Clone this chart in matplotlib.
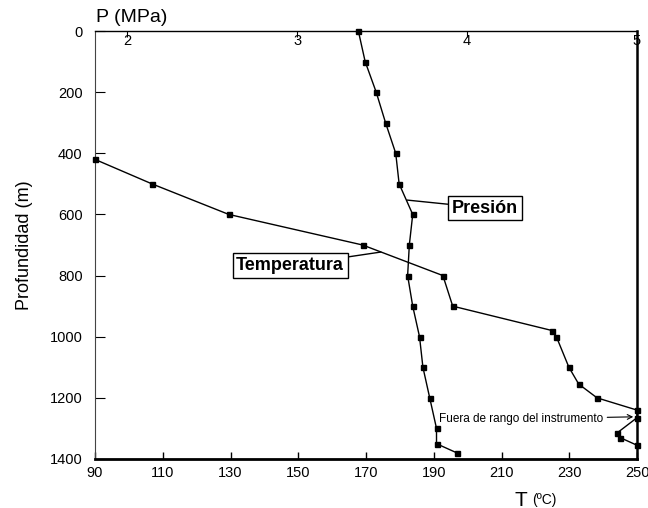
import numpy as np
import matplotlib
matplotlib.use('Agg')
import matplotlib.pyplot as plt

plt.rcParams['font.family'] = ['Liberation Sans', 'DejaVu Sans']

# temperature log (T in degC vs depth in m)
depth_T = [420, 500, 600, 700, 800, 900, 980, 1000, 1100, 1155, 1200, 1240, 1265, 1315, 1330, 1355]
temp_C = [90, 106.8, 129.5, 169, 192.7, 195.6, 225, 226.2, 229.9, 232.8, 238.2, 250, 250, 244.1, 245, 250]

# pressure log (P in MPa vs depth in m)
depth_P = [0, 100, 200, 300, 400, 500, 600, 700, 800, 900, 1000, 1100, 1200, 1300, 1350, 1380]
pres_MPa = [3.36, 3.40, 3.465, 3.52, 3.58, 3.60, 3.68, 3.66, 3.65, 3.68, 3.72, 3.74, 3.78, 3.82, 3.82, 3.94]

T_ticks = [90, 110, 130, 150, 170, 190, 210, 230, 250]
P_ticks = [2, 3, 4, 5]
depth_ticks = [0, 200, 400, 600, 800, 1000, 1200, 1400]

W, H = 648, 508
fig = plt.figure(figsize=(W / 100, H / 100), dpi=100)
ax = fig.add_axes([95 / W, (H - 459) / H, 542 / W, 428 / H])

ax.plot(temp_C, depth_T, color='black', lw=1, marker='s', ms=3.6, clip_on=False, zorder=3)
ax.set_xlim(90, 250)
ax.set_ylim(1400, 0)
ax.set_xticks(T_ticks)
ax.set_yticks(depth_ticks)
ax.tick_params(axis='x', direction='in', length=5, width=1, pad=5, labelsize=10.5)
ax.tick_params(axis='y', direction='in', length=7, width=0.8, pad=9, labelsize=10.5)
ax.set_ylabel('Profundidad (m)', fontsize=13, labelpad=12)

ax.spines['left'].set_linewidth(0.8)
ax.spines['left'].set_color('#444444')
ax.spines['top'].set_linewidth(1)
ax.spines['right'].set_linewidth(1.8)
ax.spines['bottom'].set_linewidth(2)

ax2 = ax.twiny()
ax2.plot(pres_MPa, depth_P, color='black', lw=1, marker='s', ms=3.6, clip_on=False, zorder=3)
ax2.set_xlim(1.81, 5.0)
ax2.set_xticks(P_ticks)
ax2.tick_params(axis='x', direction='in', length=4, width=0.8, pad=-12, labelsize=10.5)
for s in ax2.spines.values():
    s.set_visible(False)

# labels
fig.text(96 / W, 1 - 18 / H, 'P (MPa)', fontsize=14, ha='left', va='center')
fig.text(521 / W, 1 - 500 / H, 'T', fontsize=15, ha='center', va='center')
fig.text(532 / W, 1 - 500 / H, '(ºC)', fontsize=10, ha='left', va='center')

box = dict(boxstyle='square,pad=0.2', fc='white', ec='black', lw=1)
ax.annotate('Presión', xy=(182.1, 553), xytext=(205.1, 579), fontsize=13, fontweight='bold',
            ha='center', va='center', bbox=box,
            arrowprops=dict(arrowstyle='-', color='black', lw=1, shrinkA=0, shrinkB=0))
ax.annotate('Temperatura', xy=(174.4, 723), xytext=(147.6, 767), fontsize=13, fontweight='bold',
            ha='center', va='center', bbox=box,
            arrowprops=dict(arrowstyle='-', color='black', lw=1, shrinkA=0, shrinkB=0))
ax.annotate('Fuera de rango del instrumento', xy=(249.3, 1262), xytext=(191.5, 1269),
            fontsize=8.5, ha='left', va='center',
            arrowprops=dict(arrowstyle='->', color='black', lw=0.8, shrinkA=1, shrinkB=1))

fig.savefig('out.png', dpi=100)
